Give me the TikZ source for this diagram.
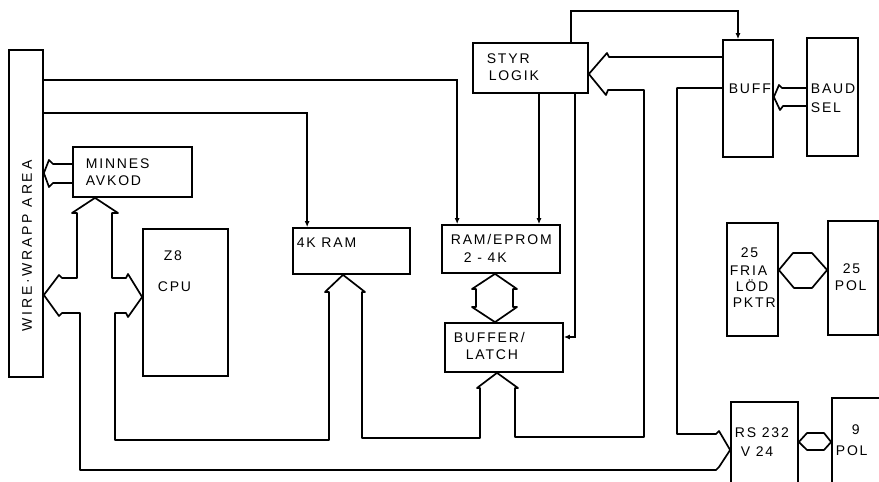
\documentclass[tikz,border=0pt]{standalone}
\usepackage{fontspec}
\newfontfamily\lett{Liberation Sans}[LetterSpace=13]
\usetikzlibrary{arrows.meta}
\begin{document}
\begin{tikzpicture}[x=1pt,y=-1pt,line width=1.7pt,
  box/.style={draw,inner sep=0pt,line width=1.7pt},
  lbl/.style={anchor=base west,inner sep=0pt,font=\lett\fontsize{14}{16}\selectfont},
  sig/.style={-{Latex[length=6pt,width=5pt]}},
  bus/.style={line join=round}]
\clip (0,0) rectangle (879,482);
\fill[white] (0,0) rectangle (879,482);
% boxes
\node[box,minimum width=34,minimum height=327] (ww) at (26,213.5) {};
\node[box,minimum width=119,minimum height=50] (minnes) at (132.5,172) {};
\node[box,minimum width=85,minimum height=147] (cpu) at (185.5,302.5) {};
\node[box,minimum width=117,minimum height=46] (ram4k) at (351.5,251) {};
\node[box,minimum width=118,minimum height=48] (reprom) at (501,249) {};
\node[box,minimum width=118,minimum height=49] (bufl) at (504,347.5) {};
\node[box,minimum width=115,minimum height=50] (styr) at (530.5,68) {};
\node[box,minimum width=50,minimum height=117] (buff) at (748,98.5) {};
\node[box,minimum width=51,minimum height=118] (baud) at (832.5,97) {};
\node[box,minimum width=51,minimum height=113] (fria) at (752.5,279.5) {};
\node[box,minimum width=50,minimum height=114] (pol25) at (853,278) {};
\node[box,minimum width=67,minimum height=110] (rs) at (764.5,457) {};
\node[box,minimum width=60,minimum height=110] (pol9) at (862,453) {};
% labels
\node[lbl,rotate=90,anchor=center] (wwt) at (27,246) {\addfontfeatures{LetterSpace=20}WIRE·WRAPP AREA};
\node[lbl] (t1) at (85,168) {MINNES};
\node[lbl] (t2) at (85,185) {AVKOD};
\node[lbl] (t3) at (163,260) {Z8};
\node[lbl] (t4) at (157,291) {CPU};
\node[lbl] (t5) at (296,247) {4K RAM};
\node[lbl] (t6) at (450,244) {RAM/EPROM};
\node[lbl] (t7) at (463,262) {2 - 4K};
\node[lbl] (t8) at (453,342) {BUFFER/};
\node[lbl] (t9) at (465,359) {LATCH};
\node[lbl] (t10) at (486,63) {STYR};
\node[lbl] (t11) at (488,80) {LOGIK};
\node[lbl] (t12) at (728,93) {BUFF};
\node[lbl] (t13) at (810,93) {BAUD};
\node[lbl] (t14) at (810,112) {SEL};
\node[lbl] (t15) at (740,257) {25};
\node[lbl] (t16) at (729,275) {FRIA};
\node[lbl] (t17) at (735,291) {LÖD};
\node[lbl] (t18) at (732,307) {PKTR};
\node[lbl] (t19) at (842,273) {25};
\node[lbl] (t20) at (834,290) {POL};
\node[lbl] (t21) at (734,437) {RS 232};
\node[lbl] (t22) at (740,456) {V 24};
\node[lbl] (t23) at (851,434) {9};
\node[lbl] (t24) at (835,455) {POL};
% thin signal lines
\draw[sig] (ww.east |- 0,80) -| ([xshift=16pt]reprom.north west);
\draw[sig] (ww.east |- 0,113) -| ([xshift=15pt]ram4k.north west);
\draw[sig] (styr.south -| 539,0) -- (reprom.north -| 539,0);
\draw[sig] (styr.south -| 575,0) |- (bufl.east |- 0,337);
\draw[sig] (styr.north -| 571,0) -- (571,11) -| (buff.north -| 738,0);
% fat bus arrows
\draw[bus] (minnes.west |- 0,164) -- (53,164) -- (49,160) -- (ww.east |- 0,173) -- (49,187) -- (53,183) -- (minnes.west |- 0,183);
\draw[bus] (minnes.south -| 95,0) -- (72,213) -- (77,213) -- (77,278) -- (62,278) -- (59,275) -- (ww.east |- 0,295) -- (59,316) -- (62,313) -- (80,313) -- (80,470) -- (716,470) -- (719,467) -- (rs.west |- 0,450);
\draw[bus] (minnes.south -| 95,0) -- (118,213) -- (112,213) -- (112,278) -- (126,278) -- (128,274) -- (cpu.west |- 0,297) -- (128,317) -- (126,313) -- (115,313) -- (115,440) -- (329,440) -- (329,292) -- (325,292) -- (ram4k.south -| 343,0) -- (365,292) -- (362,292) -- (362,438) -- (480,438) -- (480,388) -- (477,388) -- (bufl.south -| 497,0) -- (518,388) -- (515,388) -- (515,437) -- (644,437) -- (644,90) -- (608,90) -- (606,95) -- (styr.east |- 0,74) -- (607,53) -- (609,57) -- (buff.west |- 0,57);
\draw[bus] (buff.west |- 0,88) -- (677,88) -- (677,434) -- (716,434) -- (719,431) -- (rs.west |- 0,450);
\draw[bus] (reprom.south -| 495,0) -- (472,289) -- (476,289) -- (476,307) -- (472,307) -- (bufl.north -| 495,0) -- (517,307) -- (513,307) -- (513,289) -- (517,289) -- cycle;
\draw[bus] (fria.east |- 0,270) -- (793,253) -- (812,253) -- (pol25.west |- 0,270) -- (812,288) -- (794,288) -- cycle;
\draw[bus] (rs.east |- 0,442) -- (807,433) -- (824,433) -- (pol9.west |- 0,442) -- (824,450) -- (807,450) -- cycle;
\draw[bus] (baud.west |- 0,88) -- (782,88) -- (779,85) -- (buff.east |- 0,97) -- (780,110) -- (783,106) -- (baud.west |- 0,106);
\end{tikzpicture}
\end{document}
